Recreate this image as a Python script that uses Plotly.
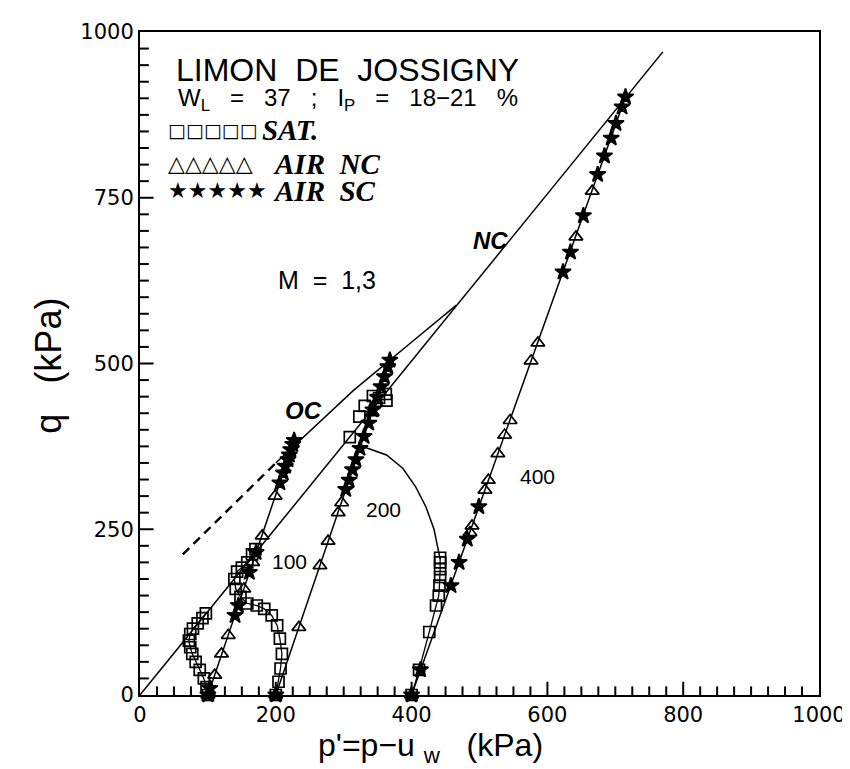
import plotly.graph_objects as go

# ---------------- data (kPa) ----------------
# critical state / failure lines
nc_line_p = [0, 770]
nc_line_q = [0, 970]
oc_dash_p = [63, 200]
oc_dash_q = [212, 350]
oc_solid_p = [200, 314, 402, 466]
oc_solid_q = [350, 459, 534, 588]

# drained air-dried paths (straight stress paths)
path100_p = [100, 227]
path100_q = [0, 384]
path200_p = [200, 368]
path200_q = [0, 505]
path400_p = [400, 715]
path400_q = [0, 902]

# SAT. (squares)
sat100_p = [100, 98, 94, 88, 82, 77, 74, 72, 74, 78, 85, 92, 97]
sat100_q = [0, 12, 25, 38, 50, 62, 72, 82, 92, 100, 108, 116, 123]
sat200_p = [200, 204, 207, 209, 206, 202, 194, 183, 172, 158, 148, 141, 139, 143, 150, 158, 165, 170]
sat200_q = [0, 20, 40, 62, 85, 105, 120, 130, 135, 138, 148, 160, 175, 186, 192, 200, 212, 220]
sat400_p = [400, 411, 426, 436, 440, 441, 442, 442, 442, 442]
sat400_q = [0, 38, 95, 135, 150, 165, 178, 190, 200, 207]
sat400_arc_p = [330, 336, 363, 387, 406, 421, 433, 440, 442]
sat400_arc_q = [374, 372, 362, 342, 314, 284, 250, 215, 205]
sat_top_p = [309, 323, 331, 343, 352, 362, 363]
sat_top_q = [389, 420, 436, 451, 448, 454, 444]

# AIR NC (triangles)
nc100_p = [100, 110, 120, 130, 153, 166, 180, 199]
nc100_q = [0, 30, 62, 90, 160, 200, 240, 300]
nc200_p = [200, 234, 265, 277, 292, 297, 342, 347]
nc200_q = [0, 102, 195, 232, 275, 290, 426, 440]
nc400_p = [400, 486, 489, 508, 513, 527, 537, 545, 576, 586, 642, 666]
nc400_q = [0, 245, 255, 309, 324, 364, 392, 414, 504, 531, 691, 760]

# AIR SC (stars)
sc100_p = [100, 103, 140, 145, 161, 171, 206, 211, 214, 218, 220, 222, 225, 227]
sc100_q = [0, 10, 120, 135, 185, 215, 320, 335, 345, 355, 362, 370, 378, 384]
sc200_p = [200, 303, 308, 313, 318, 324, 330, 337, 343, 350, 355, 360, 365, 368]
sc200_q = [0, 310, 324, 340, 355, 372, 390, 410, 430, 449, 465, 480, 495, 505]
sc400_p = [400, 413, 458, 470, 482, 499, 623, 634, 653, 674, 684, 694, 701, 710, 715]
sc400_q = [0, 38, 165, 200, 235, 284, 638, 668, 723, 785, 813, 840, 862, 887, 902]

# tick positions (axis values)
x_major = [200, 400, 600, 800]
y_major = [250, 500, 750]
minor_vals = list(range(25, 1000, 25))

# ---------------- layout geometry (pixels) ----------------
W, H = 850, 769
L, R, T, B = 132, 816, 18, 687
MINOR_LEN, MAJOR_LEN = 13, 20   # tick lengths in axis units (about 9 px and 14 px)


def px(x):
    return (x - L) / (R - L)


def py(y):
    return (B - y) / (B - T)


BLACK = "#000000"
fig = go.Figure()


def line(xs, ys, dash="solid", width=1.5):
    fig.add_trace(go.Scatter(x=xs, y=ys, mode="lines",
                             line=dict(color=BLACK, width=width, dash=dash),
                             hoverinfo="skip", showlegend=False))


def marks(xs, ys, symbol, size, with_line=False, first_filled=None):
    sym = [symbol] * len(xs)
    if first_filled:
        sym[0] = first_filled
    fig.add_trace(go.Scatter(
        x=xs, y=ys, mode="lines+markers" if with_line else "markers",
        line=dict(color=BLACK, width=1.3),
        marker=dict(symbol=sym, size=size, color=BLACK,
                    line=dict(color=BLACK, width=1.7)),
        cliponaxis=False, hoverinfo="skip", showlegend=False))


# inside tick marks as short line segments (one trace per axis)
tx, ty = [], []
for v in minor_vals:
    ln = MAJOR_LEN if v in x_major else MINOR_LEN
    tx += [v, v, None]
    ty += [0, ln, None]
line(tx, ty, width=2)
tx, ty = [], []
for v in minor_vals:
    ln = MAJOR_LEN if v in y_major else MINOR_LEN
    tx += [0, ln, None]
    ty += [v, v, None]
line(tx, ty, width=2)

line(nc_line_p, nc_line_q)
line(oc_dash_p, oc_dash_q, dash="9px,6px", width=2.4)
line(oc_solid_p, oc_solid_q)
line(path100_p, path100_q)
line(path200_p, path200_q)
line(path400_p, path400_q)
line(sat400_arc_p, sat400_arc_q)

marks(sat100_p, sat100_q, "square-open", 11, True)
marks(sat200_p, sat200_q, "square-open", 11, True)
marks(sat400_p, sat400_q, "square-open", 11, True)
marks(sat_top_p, sat_top_q, "square-open", 11)
marks(nc100_p, nc100_q, "triangle-up-open", 12, first_filled="triangle-up")
marks(nc200_p, nc200_q, "triangle-up-open", 12, first_filled="triangle-up")
marks(nc400_p, nc400_q, "triangle-up-open", 12, first_filled="triangle-up")
marks(sc100_p, sc100_q, "star", 12)
marks(sc200_p, sc200_q, "star", 12)
marks(sc400_p, sc400_q, "star", 12)

SANS = "Liberation Sans"
SERIF = "Liberation Serif"
SYM = "DejaVu Sans"

ann = []


def text(x, y, s, size, family=SANS, xanchor="center", angle=0):
    ann.append(dict(x=px(x), y=py(y), xref="paper", yref="paper", text=s,
                    showarrow=False, xanchor=xanchor, yanchor="middle",
                    textangle=angle, font=dict(family=family, size=size, color=BLACK)))


text(166, 56, "LIMON  DE  JOSSIGNY", 32, xanchor="left")
text(168, 86, "W<sub>L</sub>   =   37   ;   I<sub>P</sub>   =   18−21   %", 24, xanchor="left")
text(158, 117, "□□□□□", 19, family=SYM, xanchor="left")
text(253, 117, "<b><i>SAT.</i></b>", 29, family=SERIF, xanchor="left")
text(158, 151, "△△△△△", 22, family=SYM, xanchor="left")
text(264, 151, "<b><i>AIR  NC</i></b>", 29, family=SERIF, xanchor="left")
text(158, 178, "★★★★★", 22, family=SYM, xanchor="left")
text(264, 178, "<b><i>AIR  SC</i></b>", 29, family=SERIF, xanchor="left")
text(485, 228, "<b><i>NC</i></b>", 24, family=SANS)
text(297, 400, "<b><i>OC</i></b>", 24, family=SANS)
text(320, 268, "M  =  1,3", 25)
text(283, 552, "100", 21)
text(377, 500, "200", 21)
text(532, 467, "400", 21)
text(40, 355, "q   (kPa)", 36, angle=-90)
text(425, 740, "p'=p−u <sub>w</sub>   (kPa)", 32)

TICKFONT = dict(family="DejaVu Sans", size=21, color=BLACK)

fig.update_layout(
    width=W, height=H,
    margin=dict(l=L, r=W - R, t=T, b=H - B, pad=0),
    paper_bgcolor="white", plot_bgcolor="white",
    annotations=ann,
    showlegend=False,
    xaxis=dict(range=[0, 1000], tickmode="linear", tick0=0, dtick=200, ticks="",
               showline=True, linecolor=BLACK, linewidth=2, mirror=True,
               showgrid=False, zeroline=False, layer="above traces",
               tickfont=TICKFONT),
    yaxis=dict(range=[0, 1000], tickmode="linear", tick0=0, dtick=250, ticks="",
               showline=True, linecolor=BLACK, linewidth=2, mirror=True,
               showgrid=False, zeroline=False, layer="above traces",
               tickfont=TICKFONT),
)

fig.write_html("out.html")
